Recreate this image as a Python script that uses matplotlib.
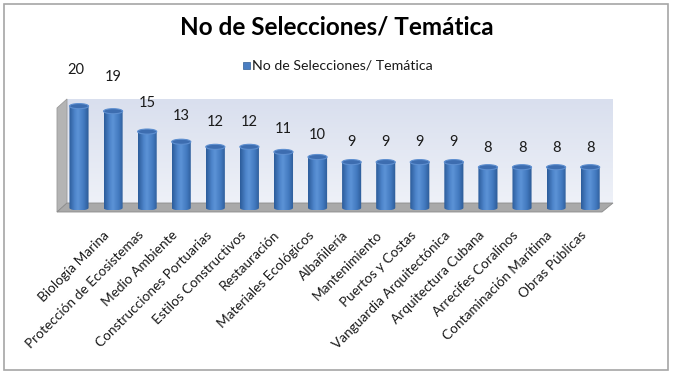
import numpy as np
import matplotlib
matplotlib.use("Agg")
import matplotlib.pyplot as plt
from matplotlib.patches import Polygon, Ellipse, PathPatch, Rectangle, FancyBboxPatch
from matplotlib.path import Path
from matplotlib.colors import LinearSegmentedColormap

values = [20, 19, 15, 13, 12, 12, 11, 10, 9, 9, 9, 9, 8, 8, 8, 8]
categories = ["", "Biología Marina", "Protección de Ecosistemas", "Medio Ambiente",
              "Construcciones Portuarias", "Estilos Constructivos", "Restauración",
              "Materiales Ecológicos", "Albañilería", "Mantenimiento", "Puertos y Costas",
              "Vanguardia Arquitectónica", "Arquitectura Cubana", "Arrecifes Coralinos",
              "Contaminación Marítima", "Obras Públicas"]
title = "No de Selecciones/ Temática"
series_name = "No de Selecciones/ Temática"

FONT = ["Lato", "DejaVu Sans"]
plt.rcParams['font.family'] = FONT

W, H = 673, 373
fig = plt.figure(figsize=(W / 100, H / 100), dpi=100)

def px_axes(x0, y0, x1, y1):
    return [x0 / W, 1 - y1 / H, (x1 - x0) / W, (y1 - y0) / H]

# outer border
fig.patches.append(FancyBboxPatch((4 / W, 3 / H), (W - 9) / W, (H - 7) / H,
                                  boxstyle="square,pad=0", transform=fig.transFigure,
                                  fill=False, edgecolor="#A6A6A6", linewidth=1.2))

XLIM = (-0.646, 15.67)
ax = fig.add_axes(px_axes(57, 99, 613, 212))
n = len(values)
x = np.arange(n)
ax.set_xlim(*XLIM)
ax.set_ylim(-0.8, 21.4)
ax.axis("off")

# 3D walls (decor)
def fx(px):
    return (px - 57) / 556
def fy(py):
    return (212 - py) / 113

wall_cmap = LinearSegmentedColormap.from_list("wall", ["#D9DFEE", "#EEF1F8"])
ax.imshow(np.linspace(0, 1, 64).reshape(-1, 1), cmap=wall_cmap, aspect="auto",
          extent=[fx(67), 1.0, fy(203), 1.0], transform=ax.transAxes, zorder=0)
ax.add_patch(Polygon([(fx(57), fy(108)), (fx(67), fy(99)), (fx(67), fy(203)), (fx(57), fy(212))],
                     closed=True, transform=ax.transAxes, facecolor="#B4B4B4",
                     edgecolor="#9A9A9A", lw=0.6, zorder=1, clip_on=False))
ax.add_patch(Polygon([(fx(57), fy(212)), (fx(67), fy(203)), (fx(613), fy(203)), (fx(602), fy(212))],
                     closed=True, transform=ax.transAxes, facecolor="#A9A9A9",
                     edgecolor="#8C8C8C", lw=0.6, zorder=1, clip_on=False))

# cylinders
bw = 0.56
cap_h = 1.0
body_cmap = LinearSegmentedColormap.from_list(
    "cyl", [(0, "#2B5C9A"), (0.3, "#4F86CC"), (0.45, "#5C93D6"), (0.75, "#4279BF"), (1, "#2C5A95")])
grad = np.linspace(0, 1, 64).reshape(1, -1)
for xi, v in zip(x, values):
    x0, x1 = xi - bw / 2, xi + bw / 2
    t = np.linspace(np.pi, 2 * np.pi, 30)
    bottom = np.column_stack([xi + bw / 2 * np.cos(t), 0 + cap_h / 2 * np.sin(t)])
    verts = np.vstack([[[x0, v]], bottom, [[x1, v]], [[x0, v]]])
    codes = [Path.MOVETO] + [Path.LINETO] * (len(verts) - 2) + [Path.CLOSEPOLY]
    body = PathPatch(Path(verts, codes), facecolor="none", edgecolor="none", zorder=3)
    ax.add_patch(body)
    im = ax.imshow(grad, cmap=body_cmap, aspect="auto", extent=[x0, x1, -cap_h / 2, v], zorder=3)
    im.set_clip_path(body)
    ax.add_patch(Ellipse((xi, v), bw, cap_h, facecolor="#3D6DB0", edgecolor="#5E8FD0",
                         lw=0.8, zorder=4))
    ax.text(xi - (0.08 if xi == 0 else 0), v * 1.27 + 1.6, str(v), ha="center", va="center",
            fontsize=10.5, color="#1A1A1A", zorder=5, clip_on=False)

# category labels
lax = fig.add_axes(px_axes(47, 209, 603, 226))
lax.set_xlim(*XLIM)
lax.set_ylim(0, 1)
for s in lax.spines.values():
    s.set_visible(False)
lax.patch.set_alpha(0)
lax.set_yticks([])
lax.set_xticks(x)
lax.set_xticklabels(categories, rotation=45, ha="right", rotation_mode="anchor",
                    fontsize=9.8, color="#1A1A1A")
lax.tick_params(axis="x", length=0, pad=2)

fig.text(0.5, 1 - 27 / H, title, ha="center", va="center", fontsize=17.5,
         fontweight="bold", color="#000000")

# legend
fig.patches.append(Rectangle((243 / W, 1 - 69 / H), 7 / W, 7 / H, transform=fig.transFigure,
                             facecolor="#4A7EC2", edgecolor="#2F5D95", lw=0.5))
fig.text(252 / W, 1 - 65 / H, series_name, ha="left", va="center", fontsize=10.2,
         color="#1A1A1A")

fig.savefig("out.png", dpi=100)
